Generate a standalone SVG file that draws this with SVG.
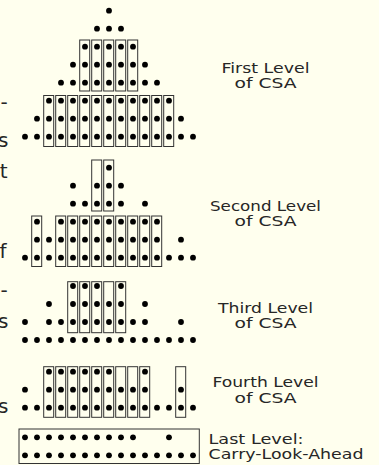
<svg xmlns="http://www.w3.org/2000/svg" width="379" height="465" viewBox="0 0 379 465">
<style>
.bg{fill:#FFFFEE}
.dt circle{fill:#000}
.bx rect{fill:none;stroke:#333;stroke-width:1}
.lb{font-family:"DejaVu Sans",sans-serif;font-size:14px;fill:#262626}
.fr{font-family:"DejaVu Sans",sans-serif;font-size:20px;fill:#262626;text-anchor:end}
</style>
<rect class="bg" x="0" y="0" width="379" height="465"/>
<g id="margin-text">
<text class="fr" x="7.6" y="108.7">-</text>
<text class="fr" x="8.3" y="146.7">s</text>
<text class="fr" x="7.7" y="178.3">t</text>
<text class="fr" x="6.5" y="258.3">f</text>
<text class="fr" x="7.6" y="297">-</text>
<text class="fr" x="8.3" y="328.3">s</text>
<text class="fr" x="8.3" y="413">s</text>
</g>
<g id="level1">
<g class="bx">
<rect x="79.7" y="40" width="10" height="51"/><rect x="91.7" y="40" width="10" height="51"/><rect x="103.7" y="40" width="10" height="51"/><rect x="115.7" y="40" width="10" height="51"/><rect x="127.7" y="40" width="10" height="51"/>
<rect x="43.7" y="95.5" width="10" height="51"/><rect x="55.7" y="95.5" width="10" height="51"/><rect x="67.7" y="95.5" width="10" height="51"/><rect x="79.7" y="95.5" width="10" height="51"/><rect x="91.7" y="95.5" width="10" height="51"/><rect x="103.7" y="95.5" width="10" height="51"/><rect x="115.7" y="95.5" width="10" height="51"/><rect x="127.7" y="95.5" width="10" height="51"/><rect x="139.7" y="95.5" width="10" height="51"/><rect x="151.7" y="95.5" width="10" height="51"/><rect x="163.7" y="95.5" width="10" height="51"/>
</g>
<g class="dt">
<circle cx="109" cy="10.7" r="2.9"/>
<circle cx="97" cy="28.7" r="2.9"/><circle cx="109" cy="28.7" r="2.9"/><circle cx="121" cy="28.7" r="2.9"/>
<circle cx="85" cy="46.7" r="2.9"/><circle cx="97" cy="46.7" r="2.9"/><circle cx="109" cy="46.7" r="2.9"/><circle cx="121" cy="46.7" r="2.9"/><circle cx="133" cy="46.7" r="2.9"/>
<circle cx="73" cy="64.7" r="2.9"/><circle cx="85" cy="64.7" r="2.9"/><circle cx="97" cy="64.7" r="2.9"/><circle cx="109" cy="64.7" r="2.9"/><circle cx="121" cy="64.7" r="2.9"/><circle cx="133" cy="64.7" r="2.9"/><circle cx="145" cy="64.7" r="2.9"/>
<circle cx="61" cy="82.7" r="2.9"/><circle cx="73" cy="82.7" r="2.9"/><circle cx="85" cy="82.7" r="2.9"/><circle cx="97" cy="82.7" r="2.9"/><circle cx="109" cy="82.7" r="2.9"/><circle cx="121" cy="82.7" r="2.9"/><circle cx="133" cy="82.7" r="2.9"/><circle cx="145" cy="82.7" r="2.9"/><circle cx="157" cy="82.7" r="2.9"/>
<circle cx="49" cy="100.7" r="2.9"/><circle cx="61" cy="100.7" r="2.9"/><circle cx="73" cy="100.7" r="2.9"/><circle cx="85" cy="100.7" r="2.9"/><circle cx="97" cy="100.7" r="2.9"/><circle cx="109" cy="100.7" r="2.9"/><circle cx="121" cy="100.7" r="2.9"/><circle cx="133" cy="100.7" r="2.9"/><circle cx="145" cy="100.7" r="2.9"/><circle cx="157" cy="100.7" r="2.9"/><circle cx="169" cy="100.7" r="2.9"/>
<circle cx="37" cy="118.7" r="2.9"/><circle cx="49" cy="118.7" r="2.9"/><circle cx="61" cy="118.7" r="2.9"/><circle cx="73" cy="118.7" r="2.9"/><circle cx="85" cy="118.7" r="2.9"/><circle cx="97" cy="118.7" r="2.9"/><circle cx="109" cy="118.7" r="2.9"/><circle cx="121" cy="118.7" r="2.9"/><circle cx="133" cy="118.7" r="2.9"/><circle cx="145" cy="118.7" r="2.9"/><circle cx="157" cy="118.7" r="2.9"/><circle cx="169" cy="118.7" r="2.9"/><circle cx="181" cy="118.7" r="2.9"/>
<circle cx="25" cy="136.7" r="2.9"/><circle cx="37" cy="136.7" r="2.9"/><circle cx="49" cy="136.7" r="2.9"/><circle cx="61" cy="136.7" r="2.9"/><circle cx="73" cy="136.7" r="2.9"/><circle cx="85" cy="136.7" r="2.9"/><circle cx="97" cy="136.7" r="2.9"/><circle cx="109" cy="136.7" r="2.9"/><circle cx="121" cy="136.7" r="2.9"/><circle cx="133" cy="136.7" r="2.9"/><circle cx="145" cy="136.7" r="2.9"/><circle cx="157" cy="136.7" r="2.9"/><circle cx="169" cy="136.7" r="2.9"/><circle cx="181" cy="136.7" r="2.9"/><circle cx="193" cy="136.7" r="2.9"/>
</g>
<text class="lb" x="265.5" y="72.5" text-anchor="middle" textLength="88" lengthAdjust="spacingAndGlyphs">First Level</text>
<text class="lb" x="265.5" y="87.5" text-anchor="middle" textLength="62" lengthAdjust="spacingAndGlyphs">of CSA</text>
</g>
<g id="level2">
<g class="bx">
<rect x="91.7" y="160" width="10" height="51"/><rect x="103.7" y="160" width="10" height="51"/>
<rect x="31.7" y="216" width="10" height="50.5"/><rect x="55.7" y="216" width="10" height="50.5"/><rect x="67.7" y="216" width="10" height="50.5"/><rect x="79.7" y="216" width="10" height="50.5"/><rect x="91.7" y="216" width="10" height="50.5"/><rect x="103.7" y="216" width="10" height="50.5"/><rect x="115.7" y="216" width="10" height="50.5"/><rect x="127.7" y="216" width="10" height="50.5"/><rect x="139.7" y="216" width="10" height="50.5"/><rect x="151.7" y="216" width="10" height="50.5"/>
</g>
<g class="dt">
<circle cx="109" cy="167.7" r="2.9"/>
<circle cx="73" cy="185.7" r="2.9"/><circle cx="97" cy="185.7" r="2.9"/><circle cx="109" cy="185.7" r="2.9"/><circle cx="121" cy="185.7" r="2.9"/>
<circle cx="73" cy="203.7" r="2.9"/><circle cx="85" cy="203.7" r="2.9"/><circle cx="97" cy="203.7" r="2.9"/><circle cx="109" cy="203.7" r="2.9"/><circle cx="121" cy="203.7" r="2.9"/><circle cx="145" cy="203.7" r="2.9"/>
<circle cx="37" cy="221.7" r="2.9"/><circle cx="61" cy="221.7" r="2.9"/><circle cx="73" cy="221.7" r="2.9"/><circle cx="85" cy="221.7" r="2.9"/><circle cx="97" cy="221.7" r="2.9"/><circle cx="109" cy="221.7" r="2.9"/><circle cx="121" cy="221.7" r="2.9"/><circle cx="133" cy="221.7" r="2.9"/><circle cx="145" cy="221.7" r="2.9"/><circle cx="157" cy="221.7" r="2.9"/>
<circle cx="37" cy="239.7" r="2.9"/><circle cx="49" cy="239.7" r="2.9"/><circle cx="61" cy="239.7" r="2.9"/><circle cx="73" cy="239.7" r="2.9"/><circle cx="85" cy="239.7" r="2.9"/><circle cx="97" cy="239.7" r="2.9"/><circle cx="109" cy="239.7" r="2.9"/><circle cx="121" cy="239.7" r="2.9"/><circle cx="133" cy="239.7" r="2.9"/><circle cx="145" cy="239.7" r="2.9"/><circle cx="157" cy="239.7" r="2.9"/><circle cx="181" cy="239.7" r="2.9"/>
<circle cx="25" cy="257.7" r="2.9"/><circle cx="37" cy="257.7" r="2.9"/><circle cx="49" cy="257.7" r="2.9"/><circle cx="61" cy="257.7" r="2.9"/><circle cx="73" cy="257.7" r="2.9"/><circle cx="85" cy="257.7" r="2.9"/><circle cx="97" cy="257.7" r="2.9"/><circle cx="109" cy="257.7" r="2.9"/><circle cx="121" cy="257.7" r="2.9"/><circle cx="133" cy="257.7" r="2.9"/><circle cx="145" cy="257.7" r="2.9"/><circle cx="157" cy="257.7" r="2.9"/><circle cx="169" cy="257.7" r="2.9"/><circle cx="181" cy="257.7" r="2.9"/><circle cx="193" cy="257.7" r="2.9"/>
</g>
<text class="lb" x="265.5" y="210.7" text-anchor="middle" textLength="111" lengthAdjust="spacingAndGlyphs">Second Level</text>
<text class="lb" x="265.5" y="226" text-anchor="middle" textLength="62" lengthAdjust="spacingAndGlyphs">of CSA</text>
</g>
<g id="level3">
<g class="bx">
<rect x="67.7" y="281.7" width="10" height="51"/><rect x="79.7" y="281.7" width="10" height="51"/><rect x="91.7" y="281.7" width="10" height="51"/><rect x="103.7" y="281.7" width="10" height="51"/><rect x="115.7" y="281.7" width="10" height="51"/>
</g>
<g class="dt">
<circle cx="73" cy="286" r="2.9"/><circle cx="85" cy="286" r="2.9"/><circle cx="97" cy="286" r="2.9"/><circle cx="121" cy="286" r="2.9"/>
<circle cx="49" cy="304" r="2.9"/><circle cx="73" cy="304" r="2.9"/><circle cx="85" cy="304" r="2.9"/><circle cx="97" cy="304" r="2.9"/><circle cx="109" cy="304" r="2.9"/><circle cx="121" cy="304" r="2.9"/><circle cx="145" cy="304" r="2.9"/>
<circle cx="25" cy="322" r="2.9"/><circle cx="49" cy="322" r="2.9"/><circle cx="61" cy="322" r="2.9"/><circle cx="73" cy="322" r="2.9"/><circle cx="85" cy="322" r="2.9"/><circle cx="97" cy="322" r="2.9"/><circle cx="109" cy="322" r="2.9"/><circle cx="121" cy="322" r="2.9"/><circle cx="133" cy="322" r="2.9"/><circle cx="145" cy="322" r="2.9"/><circle cx="181" cy="322" r="2.9"/>
<circle cx="25" cy="340" r="2.9"/><circle cx="37" cy="340" r="2.9"/><circle cx="49" cy="340" r="2.9"/><circle cx="61" cy="340" r="2.9"/><circle cx="73" cy="340" r="2.9"/><circle cx="85" cy="340" r="2.9"/><circle cx="97" cy="340" r="2.9"/><circle cx="109" cy="340" r="2.9"/><circle cx="121" cy="340" r="2.9"/><circle cx="133" cy="340" r="2.9"/><circle cx="145" cy="340" r="2.9"/><circle cx="157" cy="340" r="2.9"/><circle cx="169" cy="340" r="2.9"/><circle cx="181" cy="340" r="2.9"/><circle cx="193" cy="340" r="2.9"/>
</g>
<text class="lb" x="265.5" y="312.7" text-anchor="middle" textLength="95" lengthAdjust="spacingAndGlyphs">Third Level</text>
<text class="lb" x="265.5" y="327.5" text-anchor="middle" textLength="62" lengthAdjust="spacingAndGlyphs">of CSA</text>
</g>
<g id="level4">
<g class="bx">
<rect x="43.7" y="366.7" width="10" height="50.6"/><rect x="55.7" y="366.7" width="10" height="50.6"/><rect x="67.7" y="366.7" width="10" height="50.6"/><rect x="79.7" y="366.7" width="10" height="50.6"/><rect x="91.7" y="366.7" width="10" height="50.6"/><rect x="103.7" y="366.7" width="10" height="50.6"/><rect x="115.7" y="366.7" width="10" height="50.6"/><rect x="127.7" y="366.7" width="10" height="50.6"/><rect x="139.7" y="366.7" width="10" height="50.6"/><rect x="175.7" y="366.7" width="10" height="50.6"/>
</g>
<g class="dt">
<circle cx="49" cy="371.7" r="2.9"/><circle cx="61" cy="371.7" r="2.9"/><circle cx="73" cy="371.7" r="2.9"/><circle cx="85" cy="371.7" r="2.9"/><circle cx="97" cy="371.7" r="2.9"/><circle cx="109" cy="371.7" r="2.9"/><circle cx="145" cy="371.7" r="2.9"/>
<circle cx="25" cy="389.7" r="2.9"/><circle cx="49" cy="389.7" r="2.9"/><circle cx="61" cy="389.7" r="2.9"/><circle cx="73" cy="389.7" r="2.9"/><circle cx="85" cy="389.7" r="2.9"/><circle cx="97" cy="389.7" r="2.9"/><circle cx="109" cy="389.7" r="2.9"/><circle cx="121" cy="389.7" r="2.9"/><circle cx="133" cy="389.7" r="2.9"/><circle cx="145" cy="389.7" r="2.9"/><circle cx="181" cy="389.7" r="2.9"/>
<circle cx="25" cy="407.7" r="2.9"/><circle cx="37" cy="407.7" r="2.9"/><circle cx="49" cy="407.7" r="2.9"/><circle cx="61" cy="407.7" r="2.9"/><circle cx="73" cy="407.7" r="2.9"/><circle cx="85" cy="407.7" r="2.9"/><circle cx="97" cy="407.7" r="2.9"/><circle cx="109" cy="407.7" r="2.9"/><circle cx="121" cy="407.7" r="2.9"/><circle cx="133" cy="407.7" r="2.9"/><circle cx="145" cy="407.7" r="2.9"/><circle cx="157" cy="407.7" r="2.9"/><circle cx="169" cy="407.7" r="2.9"/><circle cx="181" cy="407.7" r="2.9"/><circle cx="193" cy="407.7" r="2.9"/>
</g>
<text class="lb" x="265.5" y="387.3" text-anchor="middle" textLength="106" lengthAdjust="spacingAndGlyphs">Fourth Level</text>
<text class="lb" x="265.5" y="403" text-anchor="middle" textLength="62" lengthAdjust="spacingAndGlyphs">of CSA</text>
</g>
<g id="last-level">
<g class="bx"><rect x="19" y="429" width="180.3" height="34.5"/></g>
<g class="dt">
<circle cx="25" cy="437.3" r="2.9"/><circle cx="37" cy="437.3" r="2.9"/><circle cx="49" cy="437.3" r="2.9"/><circle cx="61" cy="437.3" r="2.9"/><circle cx="73" cy="437.3" r="2.9"/><circle cx="85" cy="437.3" r="2.9"/><circle cx="97" cy="437.3" r="2.9"/><circle cx="109" cy="437.3" r="2.9"/><circle cx="121" cy="437.3" r="2.9"/><circle cx="133" cy="437.3" r="2.9"/><circle cx="169" cy="437.3" r="2.9"/>
<circle cx="25" cy="455.3" r="2.9"/><circle cx="37" cy="455.3" r="2.9"/><circle cx="49" cy="455.3" r="2.9"/><circle cx="61" cy="455.3" r="2.9"/><circle cx="73" cy="455.3" r="2.9"/><circle cx="85" cy="455.3" r="2.9"/><circle cx="97" cy="455.3" r="2.9"/><circle cx="109" cy="455.3" r="2.9"/><circle cx="121" cy="455.3" r="2.9"/><circle cx="133" cy="455.3" r="2.9"/><circle cx="145" cy="455.3" r="2.9"/><circle cx="157" cy="455.3" r="2.9"/><circle cx="169" cy="455.3" r="2.9"/><circle cx="181" cy="455.3" r="2.9"/><circle cx="193" cy="455.3" r="2.9"/>
</g>
<text class="lb" x="208.5" y="444" textLength="95" lengthAdjust="spacingAndGlyphs">Last Level:</text>
<text class="lb" x="208.5" y="459.3" textLength="155" lengthAdjust="spacingAndGlyphs">Carry-Look-Ahead</text>
</g>
</svg>
